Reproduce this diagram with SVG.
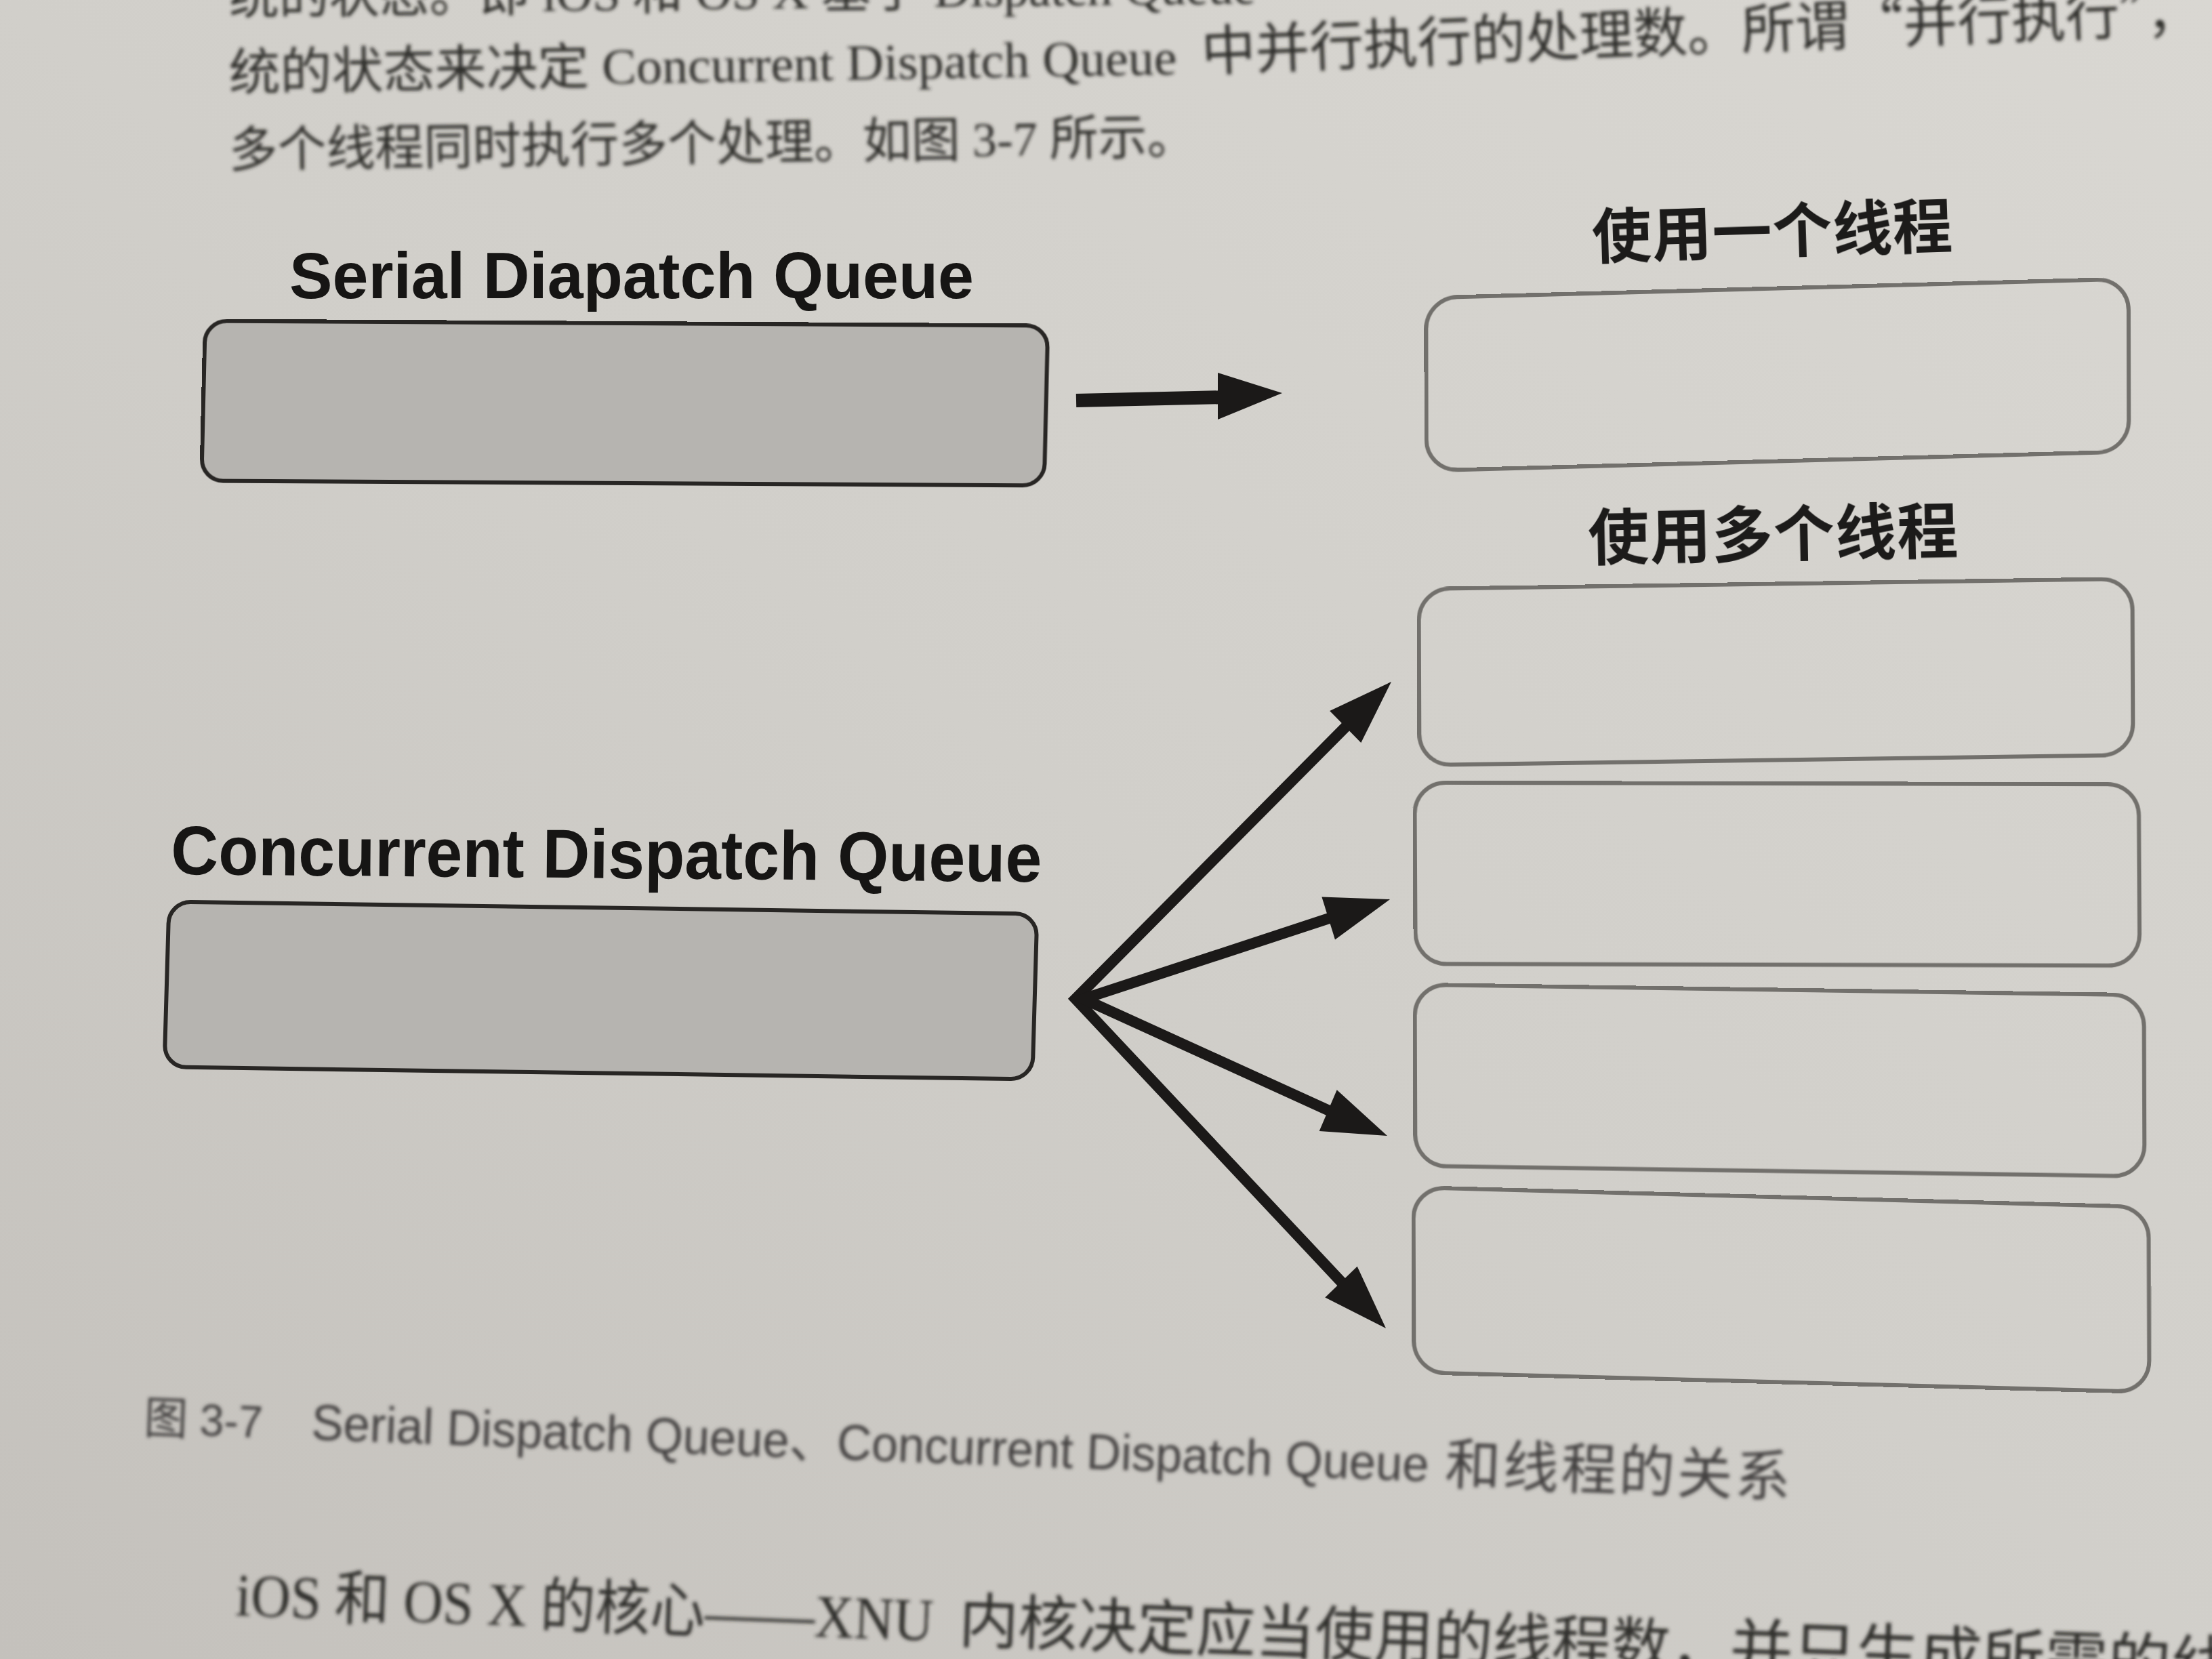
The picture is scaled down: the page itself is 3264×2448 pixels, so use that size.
<svg xmlns="http://www.w3.org/2000/svg" width="3264" height="2448" viewBox="0 0 3264 2448">
  <defs>
    <style>
      .body { font-family: "Liberation Serif", "Noto Sans CJK SC", serif; fill: #2f2d2b; }
      .bodycjk { font-family: "Noto Sans CJK SC", "Liberation Serif", sans-serif; fill: #2f2d2b; }
      .caption { font-family: "Liberation Sans Narrow", "Liberation Sans", "Noto Sans CJK SC", sans-serif; fill: #434140; }
      .qlabel { font-family: "Liberation Sans", Arial, sans-serif; font-weight: 700; fill: #161514; }
      .tlabel { font-family: "Noto Sans CJK SC", sans-serif; font-weight: 700; fill: #1c1b1a; }
      .queue { fill: #b6b4b0; stroke: #282624; stroke-width: 6; }
      .thread { fill: none; stroke: #72706c; stroke-width: 6; }
      .shaft { fill: none; stroke: #1b1918; stroke-linecap: butt; stroke-linejoin: miter; stroke-miterlimit: 6; }
      .head { fill: #1b1918; }
    </style>
    <linearGradient id="paper" x1="1" y1="0" x2="0" y2="1">
      <stop offset="0" stop-color="#d9d7d2"/>
      <stop offset="0.5" stop-color="#d1cfca"/>
      <stop offset="1" stop-color="#c4c1bc"/>
    </linearGradient>
    <filter id="soft" x="-5%" y="-50%" width="110%" height="200%">
      <feGaussianBlur stdDeviation="2.6"/>
    </filter>
  </defs>

  <!-- page -->
  <rect x="0" y="0" width="3264" height="2448" fill="url(#paper)"/>

  <!-- running text around the figure -->
  <g id="page-text" filter="url(#soft)">
    <g transform="rotate(-0.6 338 21)">
      <text class="body" x="338" y="21" font-size="74">统的状态。即 iOS 和 OS X 基于 Dispatch Queue</text>
    </g>
    <g transform="rotate(-0.95 338 133)">
      <text class="body" x="338" y="133" font-size="74" textLength="1399" lengthAdjust="spacingAndGlyphs">统的状态来决定 Concurrent Dispatch Queue</text>
    </g>
    <g transform="rotate(-2.3 1774 104)">
      <text class="bodycjk" x="1774" y="104" font-size="80" textLength="1475" lengthAdjust="spacingAndGlyphs">中并行执行的处理数。所谓“并行执行”，</text>
    </g>
    <g transform="rotate(-0.8 338 246)">
      <text class="body" x="338" y="246" font-size="72" textLength="1427" lengthAdjust="spacingAndGlyphs">多个线程同时执行多个处理。如图 3-7 所示。</text>
    </g>

    <!-- figure caption -->
    <g transform="rotate(2.15 212 2115)">
      <text class="caption" x="212" y="2115" font-size="66" textLength="175" lengthAdjust="spacingAndGlyphs">图 3-7</text>
      <text class="caption" x="459" y="2115" font-size="74" textLength="1650" lengthAdjust="spacingAndGlyphs">Serial Dispatch Queue、Concurrent Dispatch Queue</text>
      <text class="caption" x="2133" y="2117" font-size="82" textLength="510" lengthAdjust="spacing">和线程的关系</text>
    </g>

    <!-- following paragraph -->
    <g transform="rotate(2.1 347 2383)">
      <text class="body" x="347" y="2383" font-size="88" textLength="1030" lengthAdjust="spacingAndGlyphs">iOS 和 OS X 的核心——XNU</text>
      <text class="body" x="1415" y="2383" font-size="88" textLength="1138" lengthAdjust="spacingAndGlyphs">内核决定应当使用的线程数，</text>
      <text class="body" x="2553" y="2383" font-size="92" textLength="744" lengthAdjust="spacingAndGlyphs">并只生成所需的线</text>
    </g>
  </g>

  <!-- Serial Dispatch Queue -->
  <g id="serial-queue">
    <text class="qlabel" x="427" y="440" font-size="96" textLength="1010" lengthAdjust="spacingAndGlyphs">Serial Diapatch Queue</text>
    <rect class="queue" x="0" y="0" width="1243.5" height="236" rx="32" transform="matrix(0.99998 0.00563 -0.0233 0.99973 302.8 473.5)"/>
  </g>

  <!-- Concurrent Dispatch Queue -->
  <g id="concurrent-queue">
    <g transform="rotate(0.5 252 1290)">
      <text class="qlabel" x="252" y="1290" font-size="102" textLength="1285" lengthAdjust="spacingAndGlyphs">Concurrent Dispatch Queue</text>
    </g>
    <rect class="queue" x="0" y="0" width="1281" height="244" rx="32" transform="matrix(0.9999 0.01405 -0.02868 0.99959 249.5 1330.5)"/>
  </g>

  <!-- single thread -->
  <g id="thread-single">
    <g transform="rotate(-1.8 2350 381)">
      <text class="tlabel" x="2350" y="381" font-size="88" textLength="532" lengthAdjust="spacing">使用一个线程</text>
    </g>
    <rect class="thread" x="0" y="0" width="1036.9" height="255" rx="46" transform="matrix(0.99963 -0.027 0.00196 1 2104.3 439.5)"/>
  </g>

  <!-- multiple threads -->
  <g id="thread-multi-label">
    <g transform="rotate(-1.1 2344 826)">
      <text class="tlabel" x="2344" y="826" font-size="90" textLength="546" lengthAdjust="spacing">使用多个线程</text>
    </g>
  </g>
  <g id="thread-multi-1">
    <rect class="thread" x="0" y="0" width="1053.1" height="260" rx="46" transform="matrix(0.9999 -0.01424 0.00385 0.99999 2093.5 869)"/>
  </g>
  <g id="thread-multi-2">
    <rect class="thread" x="0" y="0" width="1068.5" height="267.5" rx="46" transform="matrix(1 0.00234 0.00561 0.99998 2087.3 1154.8)"/>
  </g>
  <g id="thread-multi-3">
    <rect class="thread" x="0" y="0" width="1076.1" height="267.5" rx="46" transform="matrix(0.9999 0.0144 0.00374 0.99999 2087.5 1452.8)"/>
  </g>
  <g id="thread-multi-4">
    <rect class="thread" x="0" y="0" width="1085.4" height="273" rx="46" transform="matrix(0.99961 0.02672 0.00366 0.99999 2085.5 1752)"/>
  </g>

  <!-- connectors -->
  <g id="connectors">
    <!-- serial queue to its single thread -->
    <path class="shaft" stroke-width="20" d="M1588,591 L1810,586"/>
    <polygon class="head" points="1797,550 1892,580 1797,619"/>

    <!-- concurrent queue fanning out to four threads -->
    <path class="shaft" stroke-width="16" d="M1996,1062 L1587,1474 L1989.4,1902.4"/>
    <path class="shaft" stroke-width="16" d="M1974.6,1350.7 L1599,1474 L1973.5,1644.5"/>
    <polygon class="head" points="2053,1006 2008.3,1096.1 1962.1,1048.9"/>
    <polygon class="head" points="2051,1327 1970,1386.6 1950.4,1323.6"/>
    <polygon class="head" points="2047,1676 1946.7,1668.9 1972.7,1608.3"/>
    <polygon class="head" points="2045,1960 1955.3,1914.5 2002.7,1868.7"/>
  </g>
</svg>
